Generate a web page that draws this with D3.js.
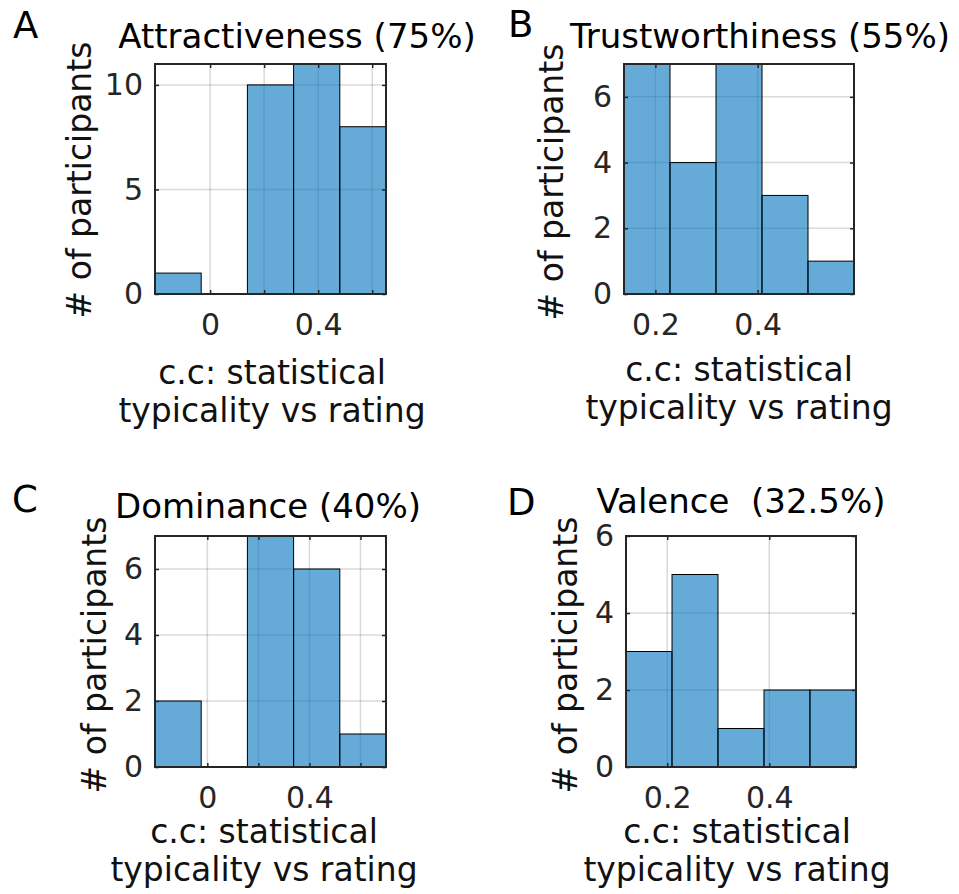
<!DOCTYPE html>
<html>
<head>
<meta charset="utf-8">
<script src="https://cdn.jsdelivr.net/npm/d3@7"></script>
<style>
    body { margin: 0; background: #fff; }
    text { font-family: "DejaVu Sans", sans-serif; white-space: pre; }
</style>
</head>
<body>
<svg id="chart" width="959" height="894"></svg>
<script>
// histogram data
var panelLetters = ['A', 'B', 'C', 'D'];
var panelTitles = ['Attractiveness (75%)', 'Trustworthiness (55%)', 'Dominance (40%)', 'Valence  (32.5%)'];

var attractivenessEdges = [-0.204, -0.033, 0.138, 0.309, 0.480, 0.651];
var attractivenessCounts = [1, 0, 10, 11, 8];
var trustworthinessEdges = [0.1387, 0.2286, 0.3185, 0.4084, 0.4983, 0.5882];
var trustworthinessCounts = [7, 4, 7, 3, 1];
var dominanceEdges = [-0.205, -0.024, 0.157, 0.338, 0.519, 0.700];
var dominanceCounts = [2, 0, 7, 6, 1];
var valenceEdges = [0.1192, 0.2094, 0.2995, 0.3897, 0.4798, 0.5700];
var valenceCounts = [3, 5, 1, 2, 2];

var xTicksWide = [0, 0.2, 0.4, 0.6];
var xTickLabelsWide = ['0', '', '0.4', ''];
var xTicksNarrow = [0.2, 0.4];
var xTickLabelsNarrow = ['0.2', '0.4'];

var yMaxes = [11, 7, 7, 6];
var yTicksA = [0, 5, 10];
var yTicksBCD = [0, 2, 4, 6];

var yLabel = '# of participants';
var xLabelLines = ['c.c: statistical', 'typicality vs rating'];

// layout (pixels)
var layout = [
    {left: 155, top: 64, width: 231, height: 230, titleX: 297, titleY: 48, letterX: 13, letterY: 38,
        yLabelX: 91, yLabelY: 180, xLabelX: 272, xLabelY: 384},
    {left: 624, top: 64, width: 230, height: 230, titleX: 760, titleY: 48, letterX: 508, letterY: 37,
        yLabelX: 563, yLabelY: 182, xLabelX: 739, xLabelY: 381},
    {left: 155, top: 536, width: 231, height: 231, titleX: 268, titleY: 518, letterX: 12, letterY: 512,
        yLabelX: 106, yLabelY: 655, xLabelX: 264, xLabelY: 843},
    {left: 626, top: 536, width: 230, height: 231, titleX: 741, titleY: 513, letterX: 507, letterY: 515,
        yLabelX: 577, yLabelY: 655, xLabelX: 737, xLabelY: 843}
];

var panels = [
    {edges: attractivenessEdges, counts: attractivenessCounts, xTicks: xTicksWide, xLabels: xTickLabelsWide, yTicks: yTicksA},
    {edges: trustworthinessEdges, counts: trustworthinessCounts, xTicks: xTicksNarrow, xLabels: xTickLabelsNarrow, yTicks: yTicksBCD},
    {edges: dominanceEdges, counts: dominanceCounts, xTicks: xTicksWide, xLabels: xTickLabelsWide, yTicks: yTicksBCD},
    {edges: valenceEdges, counts: valenceCounts, xTicks: xTicksNarrow, xLabels: xTickLabelsNarrow, yTicks: yTicksBCD}
];

var AXIS_COLOR = '#262626';
var BAR_COLOR = '#0072BD';
var svg = d3.select('#chart');

function drawPanel(p, i) {
    var L = layout[i];
    var x = d3.scaleLinear()
        .domain([p.edges[0], p.edges[p.edges.length - 1]])
        .range([0, L.width]);
    var y = d3.scaleLinear().domain([0, yMaxes[i]]).range([L.height, 0]);

    var g = svg.append('g').attr('transform', 'translate(' + L.left + ',' + L.top + ')');

    // grid
    g.selectAll('.vgrid').data(p.xTicks).enter().append('line')
        .attr('x1', x).attr('x2', x).attr('y1', 0).attr('y2', L.height)
        .attr('stroke', AXIS_COLOR).attr('stroke-opacity', 0.17).attr('stroke-width', 1.5);
    g.selectAll('.hgrid').data(p.yTicks).enter().append('line')
        .attr('x1', 0).attr('x2', L.width).attr('y1', y).attr('y2', y)
        .attr('stroke', AXIS_COLOR).attr('stroke-opacity', 0.17).attr('stroke-width', 1.5);

    // bars
    var bins = p.counts.map(function (c, k) {
        return {x0: p.edges[k], x1: p.edges[k + 1], n: c};
    });
    g.selectAll('.bar').data(bins).enter().append('rect')
        .attr('x', function (d) { return x(d.x0); })
        .attr('width', function (d) { return x(d.x1) - x(d.x0); })
        .attr('y', function (d) { return y(d.n); })
        .attr('height', function (d) { return y(0) - y(d.n); })
        .attr('fill', BAR_COLOR).attr('fill-opacity', 0.6)
        .attr('stroke', '#000').attr('stroke-width', 1);

    // axes, ticks pointing inward on all four sides
    var fmt = function (d) { return p.xLabels[p.xTicks.indexOf(d)]; };
    var axes = [
        g.append('g').attr('transform', 'translate(0,' + L.height + ')')
            .call(d3.axisBottom(x).tickValues(p.xTicks).tickFormat(fmt).tickSize(-4).tickPadding(20)),
        g.append('g')
            .call(d3.axisTop(x).tickValues(p.xTicks).tickFormat('').tickSize(-4)),
        g.append('g')
            .call(d3.axisLeft(y).tickValues(p.yTicks).tickFormat(d3.format('d')).tickSize(-4).tickPadding(12)),
        g.append('g').attr('transform', 'translate(' + L.width + ',0)')
            .call(d3.axisRight(y).tickValues(p.yTicks).tickFormat('').tickSize(-4))
    ];
    axes.forEach(function (a) {
        a.select('.domain').remove();
        a.selectAll('line').attr('stroke', AXIS_COLOR).attr('stroke-width', 1.5);
        a.selectAll('text').attr('fill', AXIS_COLOR).style('font-size', '30px')
            .style('font-family', '"DejaVu Sans", sans-serif');
    });

    g.append('rect').attr('width', L.width).attr('height', L.height)
        .attr('fill', 'none').attr('stroke', AXIS_COLOR).attr('stroke-width', 2);

    // texts
    svg.append('text').attr('x', L.titleX).attr('y', L.titleY)
        .attr('text-anchor', 'middle').style('font-size', '34px').text(panelTitles[i]);
    svg.append('text').attr('x', L.letterX).attr('y', L.letterY)
        .style('font-size', '37px').text(panelLetters[i]);
    svg.append('text')
        .attr('transform', 'translate(' + L.yLabelX + ',' + L.yLabelY + ') rotate(-90)')
        .attr('text-anchor', 'middle').style('font-size', '33px').attr('fill', '#111').text(yLabel);
    svg.append('text').attr('x', L.xLabelX).attr('y', L.xLabelY)
        .attr('text-anchor', 'middle').style('font-size', '33px').attr('fill', '#111')
        .selectAll('tspan').data(xLabelLines).enter().append('tspan')
        .attr('x', L.xLabelX).attr('dy', function (d, k) { return k === 0 ? 0 : 38; })
        .text(function (d) { return d; });
}

panels.forEach(drawPanel);
</script>
</body>
</html>
